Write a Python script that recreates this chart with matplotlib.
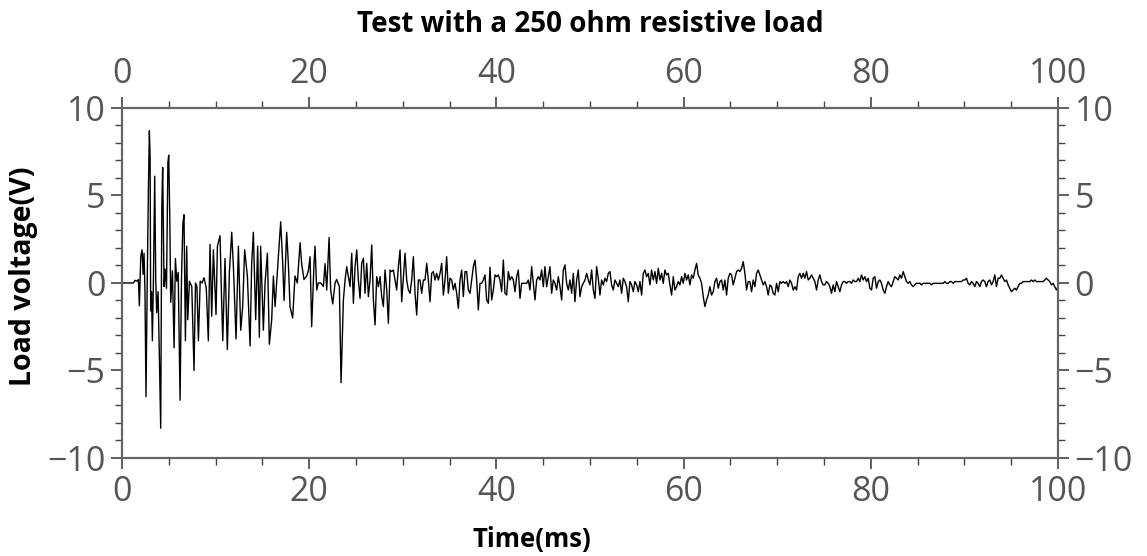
import matplotlib
matplotlib.use("Agg")
import matplotlib.pyplot as plt
import matplotlib.ticker as ticker
import numpy as np

OUT_PNG = "out.png"

# early burst, read peak by peak (ms, V)
early_t = [0.0, 1.2, 1.4, 1.6, 1.75, 1.85, 2.0, 2.14, 2.25, 2.35, 2.45, 2.56, 2.7, 2.81,
           2.92, 3.0, 3.06, 3.15, 3.24, 3.35, 3.49, 3.6, 3.7, 3.85, 3.99, 4.13, 4.25, 4.34,
           4.49, 4.6, 4.75, 4.9, 4.99, 5.1, 5.2, 5.38, 5.56, 5.7, 5.85, 6.0, 6.2, 6.35,
           6.5, 6.62, 6.77, 6.91, 7.02, 7.2, 7.45, 7.69, 7.85, 8.0, 8.16, 8.35, 8.55, 8.76,
           9.0, 9.22, 9.40, 9.58, 9.76, 10.04, 10.19, 10.47, 10.61, 10.76, 11.0, 11.25,
           11.47, 11.72, 11.9, 12.18, 12.43, 12.68, 12.89, 13.1, 13.39, 13.68, 13.85, 14.03,
           14.28, 14.49, 14.67, 14.81, 15.1, 15.28, 15.53, 15.74, 15.99, 16.17, 16.35, 16.7,
           16.95, 17.17, 17.31, 17.59, 17.77, 17.95, 18.23, 18.48, 18.73, 19.02, 19.19,
           19.44, 19.73, 19.91, 20.09, 20.26, 20.51, 20.62, 20.8, 20.98, 21.23, 21.51,
           21.69, 21.87, 22.12, 22.29, 22.51, 22.76, 22.93, 23.22, 23.4]
early_v = [0.0, 0.0, 0.15, 0.1, 0.2, -1.3, 1.5, 1.9, 0.5, 1.7, -0.5, -6.5, 0.5, 5.1,
           8.7, 7.2, -1.6, -0.5, -3.3, 0.0, 6.1, 0.2, -1.7, -0.5, -4.2, -8.3, 4.4, 6.6,
           -0.2, 0.8, -0.3, 6.9, 7.3, 3.8, -1.1, 0.7, -3.7, 1.4, 0.1, 0.6, -6.7, 0.2,
           3.4, 3.9, -3.3, 2.1, -2.1, 0.1, -0.2, -5.0, 0.0, -0.2, -3.3, 0.1, 0.0, 0.3,
           -0.3, -3.3, 2.2, -1.9, 1.9, -1.8, 2.1, 2.7, -0.4, -3.3, 1.4, -3.8,
           0.6, 2.9, 0.9, -3.2, 2.1, -2.7, -1.35, 1.9, 0.4, -3.6, 1.1, 2.9,
           -2.1, 2.1, -3.1, 2.1, -2.7, 0.0, 1.7, -3.5, -2.1, 0.4, -1.35, 1.5,
           3.5, 1.1, -1.0, 2.9, 1.1, -1.35, -2.0, 0.4, 0.0, 2.3, 1.1,
           0.2, 0.4, 0.7, 1.5, -2.5, 1.1, 2.1, -0.4, 0.0, 0.0, -0.2,
           1.1, -0.4, 2.6, -0.4, -1.2, 0.0, 0.2, -0.2, -5.7]

# sampled record after the burst (V), one value per sample
TAIL_START = 23.65   # ms
TAIL_STEP = 0.178    # ms
tail_mid_v = [-0.97, 0.17, 0.93, 0.36, -0.21, 1.70, -1.16, 0.93, 1.89, 0.17,
              -0.88, 1.12, 1.41, -0.59, 1.12, -0.78, 0.17, 2.17, -0.97, -2.4,
              0.36, -0.21, 0.36, -0.78, -1.35, 0.74, -0.4, -2.3, 0.74, 0.65,
              0.74, 0.17, -0.4, 0.93, 1.89, -1.07, 0.36, 1.70, 0.17, -0.4,
              -0.59, 0.17, 1.50, -0.59, -1.83, 0.17, 0.17, -0.59, 0.17, 0.17,
              1.12, 0.17, -1.07, 0.55, 0.65, 0.17, 0.55, 0.17, 0.55, 1.12,
              -0.69, 0.17, 1.50, -0.59, 0.27, 0.17, -0.4, -0.02, -0.59, -1.45,
              0.17, 0.74, -0.78, 0.65, 0.65, -0.4, -0.59, 0.17, 0.93, 1.31,
              0.17, -1.54, -0.02, -0.02, 0.17, 0.46, -0.97, -1.16, 0.90, -0.97,
              -0.4, 0.46, 0.36, 0.46, 0.17, -0.5, 1.31, -0.59, -0.69, 0.65,
              0.17, 0.36, 0.17, -0.5, 0.36, 0.74, -0.88, -0.02, -0.02, -0.02,
              -0.02, 0.17, -0.4, 0.93, -0.02, -0.97, 0.17, 0.36, 0.17, 0.74,
              -0.21, 0.93, -0.21, 0.36, 0.93, -0.59, 0.17, -0.02, -0.4, 0.36,
              -0.21, -0.97, 0.74, 1.03, -0.02, -0.4, 0.17, -0.59, 0.55, -1.07,
              0.17, 0.74, -0.78, -0.21, -0.02, 0.17, 0.55, 0.17]
tail_late_v = [-0.11, 0.74, -0.4, -0.88, 0.93, 0.27, -0.69, 0.17, -0.11, 0.27,
               0.08, 0.55, 0.65, -0.11, -0.4, 0.17, -0.02, -0.21, 0.17, -0.59,
               0.27, 0.08, -0.21, -1.07, 0.08, -0.11, -0.50, 0.08, -0.11, -0.50,
               0.08, -0.69, 0.55, 0.74, 0.36, 0.55, -0.11, 0.74, 0.17, 0.65,
               -0.02, 0.84, 0.17, 0.55, -0.02, 0.74, 0.46, 0.55, -0.11, -0.69,
               0.36, -0.4, -0.21, 0.08, -0.11, 0.36, -0.02, 0.55, 0.17, 0.46,
               -0.11, 0.46, 0.27, 0.74, 1.12, 0.46, 0.27, -0.02, -0.78, -1.35,
               -0.97, -0.69, -0.21, -0.69, -0.50, 0.08, 0.27, -0.30, 0.08, 0.17,
               -0.4, 0.17, -0.69, 0.27, 0.55, 0.46, -0.11, 0.27, 0.65, 0.74,
               0.65, 0.84, 1.22, 0.55, -0.4, 0.08, 0.08, -0.50, 0.17, -0.21,
               0.55, 0.74, 0.46, 0.17, -0.11, 0.08, -0.21, -0.69, -0.11, -0.21,
               -0.59, -0.69, -0.02, -0.50, 0.08, -0.02, 0.08, -0.02, 0.08, -0.21,
               0.17, -0.02, -0.4, -0.21, -0.4, 0.36, 0.55, 0.27, 0.55, 0.27,
               0.65, 0.17, 0.27, 0.46, 0.27, 0.08, -0.4, 0.17, 0.46, 0.08,
               -0.11, -0.11, 0.08, -0.02, -0.21, -0.59]
tail_end_v = [-0.11, -0.50, 0.08, -0.21, -0.50, -0.11, 0.08, 0.08, -0.02, 0.08,
              0.08, -0.02, 0.17, 0.08, 0.08, 0.27, 0.08, 0.46, 0.17, 0.36,
              0.08, 0.27, -0.30, -0.40, 0.27, 0.36, -0.30, 0.08, 0.17, -0.02,
              -0.40, -0.59, -0.21, 0.08, -0.11, -0.21, 0.08, 0.36, 0.27, 0.17,
              0.46, 0.27, 0.65, 0.36, 0.08, -0.02, 0.08, -0.11, -0.21, -0.11,
              -0.02, -0.02, -0.02, -0.11, -0.02, -0.02, -0.02, -0.02, -0.02, -0.11,
              -0.02, -0.02, -0.02, -0.02, -0.02, -0.02, -0.02, 0.08, -0.02, -0.02,
              0.08, 0.08, -0.02, 0.08, 0.08, 0.08, 0.08, 0.08, 0.17, 0.17,
              0.27, -0.02, -0.11, 0.08, -0.02, -0.21, 0.08, -0.02, -0.21, 0.08,
              0.17, 0.08, -0.21, 0.08, 0.17, -0.11, 0.08, 0.46, -0.21, 0.27,
              0.27, 0.46, 0.27, 0.08, 0.17, -0.11, -0.30, -0.50, -0.40, -0.30,
              -0.40, -0.21, -0.02, -0.02, 0.08, 0.08, 0.08, 0.08, 0.08, 0.17,
              0.08, 0.17, 0.08, 0.08, 0.08, 0.08, 0.08, 0.17, 0.27, 0.17,
              0.08, -0.11, -0.02, -0.21, -0.40, -0.21, -0.40, -0.30, -0.30, -0.30]

TITLE = "Test with a 250 ohm resistive load"
XLABEL = "Time(ms)"
YLABEL = "Load voltage(V)"


def main():
    plt.rcParams["font.family"] = ["Open Sans", "DejaVu Sans"]

    tail_v = np.array(tail_mid_v + tail_late_v + tail_end_v)
    tail_t = TAIL_START + TAIL_STEP * np.arange(len(tail_v))
    t = np.concatenate([early_t, tail_t])
    v = np.concatenate([early_v, tail_v])

    fig = plt.figure(figsize=(11.47, 5.56), dpi=100)
    ax = fig.add_axes([0.1064, 0.1763, 0.8160, 0.6295])

    ax.plot(t, v, color="black", linewidth=1.0)

    ax.set_xlim(0, 100)
    ax.set_ylim(-10, 10)
    ax.xaxis.set_major_locator(ticker.MultipleLocator(20))
    ax.xaxis.set_minor_locator(ticker.MultipleLocator(5))
    ax.yaxis.set_major_locator(ticker.MultipleLocator(5))
    ax.yaxis.set_minor_locator(ticker.MultipleLocator(1))

    grey = "#555555"
    for sp in ax.spines.values():
        sp.set_color("#666666")
        sp.set_linewidth(1.6)
    ax.tick_params(which="both", direction="out", top=True, right=True,
                   labeltop=True, labelright=True, color="#444444")
    ax.tick_params(which="major", length=8, width=1.2, labelsize=24.5,
                   labelcolor=grey, pad=4)
    ax.tick_params(which="minor", length=5, width=1.0)

    ax.set_title(TITLE, fontsize=20, fontweight="bold", pad=18)
    ax.set_xlabel(XLABEL, fontsize=18.5, fontweight="bold")
    ax.xaxis.set_label_coords(0.438, -0.195)
    ax.set_ylabel(YLABEL, fontsize=20.5, fontweight="bold")
    ax.yaxis.set_label_coords(-0.09, 0.52)

    fig.savefig(OUT_PNG, dpi=100)
    plt.close(fig)


if __name__ == "__main__":
    main()
